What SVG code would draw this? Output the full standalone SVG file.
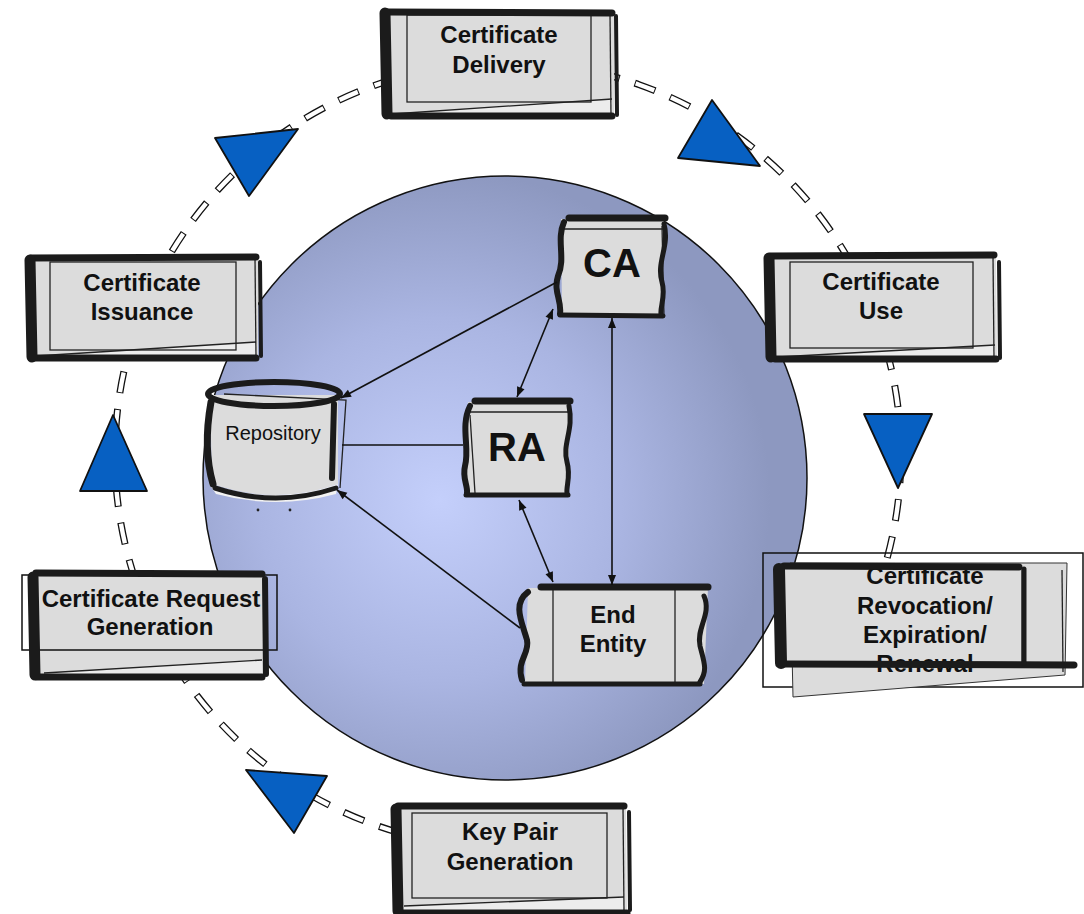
<svg xmlns="http://www.w3.org/2000/svg" width="1084" height="914" viewBox="0 0 1084 914">
  <defs>
    <radialGradient id="disk" cx="440" cy="500" r="330" gradientUnits="userSpaceOnUse">
      <stop offset="0" stop-color="#c4cffb"/>
      <stop offset="0.55" stop-color="#aab5e2"/>
      <stop offset="1" stop-color="#8d98c0"/>
    </radialGradient>
    <marker id="ah" viewBox="0 0 10 10" refX="10" refY="5" markerWidth="11" markerHeight="10" markerUnits="userSpaceOnUse" orient="auto-start-reverse">
      <path d="M0,1 L10,5 L0,9 Z" fill="#111"/>
    </marker>
    <style>
      .sheet { fill: #dcdcdc; stroke: none; }
      .pale { fill: #ececec; stroke: none; }
      .thin { fill: none; stroke: #222; stroke-width: 1.3; }
      .frame { fill: none; stroke: #111; stroke-width: 1.5; }
      .mk { fill: none; stroke: #1b1b1b; stroke-linecap: round; stroke-linejoin: round; }
      .t7 { stroke-width: 7; }
      .t11 { stroke-width: 11; }
      .t4 { stroke-width: 4; }
      .lbl { font-family: "Liberation Sans", Arial, sans-serif; font-weight: bold; font-size: 24px; fill: #111; text-anchor: middle; }
      .big { font-size: 40px; }
      .small { font-weight: normal; font-size: 20px; }
      .conn { fill: none; stroke: #111; stroke-width: 1.6; }
      .flow { fill: #0760c2; stroke: #111; stroke-width: 1.8; stroke-linejoin: round; }
      .ring-out { fill: none; stroke: #111; stroke-width: 7; stroke-dasharray: 22 16; }
      .ring-in { fill: none; stroke: #fff; stroke-width: 4.4; stroke-dasharray: 20 18; stroke-dashoffset: -1; }
    </style>
  </defs>

  <rect width="1084" height="914" fill="#ffffff"/>

  <!-- central disk -->
  <circle id="core" cx="505" cy="478" r="302" fill="url(#disk)" stroke="#111" stroke-width="1.5"/>

  <!-- lifecycle ring (outlined dashes), open between renewal and key pair -->
  <g id="ring">
    <path class="ring-out" d="M400,833 A393,393 0 1 1 874,598"/>
    <path class="ring-in" d="M400,833 A393,393 0 1 1 874,598"/>
  </g>

  <!-- Certificate Delivery -->
  <g id="n-delivery">
    <path class="sheet" d="M384,14 L614,12 L614,116 L388,116 Z"/>
    <path class="pale" d="M392,114 L612,99 L612,116 L392,116 Z"/>
    <path class="thin" d="M392,114 L612,99"/>
    <rect class="thin" x="407" y="15" width="184" height="87"/>
    <path class="thin" d="M610,14 L611,116"/>
    <path class="mk t7" d="M386,12 L612,13"/>
    <path class="mk t7" d="M391,116 L612,116"/>
    <path class="mk t11" d="M385,13 L387,114"/>
    <path class="mk t4" d="M616,16 L617,115"/>
    <text class="lbl" x="499" y="43">Certificate</text>
    <text class="lbl" x="499" y="73">Delivery</text>
  </g>

  <!-- Certificate Issuance -->
  <g id="n-issuance">
    <path class="sheet" d="M30,258 L258,256 L258,358 L32,358 Z"/>
    <path class="pale" d="M36,356 L256,342 L256,358 L36,358 Z"/>
    <path class="thin" d="M36,356 L256,342"/>
    <rect class="thin" x="50" y="262" width="186" height="88"/>
    <path class="thin" d="M255,258 L256,358"/>
    <path class="mk t7" d="M31,258 L256,257"/>
    <path class="mk t7" d="M35,358 L256,358"/>
    <path class="mk t11" d="M30,260 L32,357"/>
    <path class="mk t4" d="M260,262 L261,356"/>
    <text class="lbl" x="142" y="291">Certificate</text>
    <text class="lbl" x="142" y="320">Issuance</text>
  </g>

  <!-- Certificate Use -->
  <g id="n-use">
    <path class="sheet" d="M768,256 L996,254 L997,358 L772,358 Z"/>
    <path class="pale" d="M778,357 L995,345 L995,358 L778,358 Z"/>
    <path class="thin" d="M778,357 L995,345"/>
    <rect class="thin" x="790" y="262" width="183" height="86"/>
    <path class="thin" d="M993,256 L994,358"/>
    <path class="mk t7" d="M771,256 L994,255"/>
    <path class="mk t7" d="M775,359 L996,359"/>
    <path class="mk t11" d="M769,258 L771,357"/>
    <path class="mk t4" d="M999,262 L1000,358"/>
    <text class="lbl" x="881" y="290">Certificate</text>
    <text class="lbl" x="881" y="319">Use</text>
  </g>

  <!-- Certificate Revocation / Expiration / Renewal -->
  <g id="n-revocation">
    <rect class="frame" x="763" y="553" width="320" height="134"/>
    <path d="M790,563 L1067,563 L1065,675 L793,697 Z" style="fill:#dcdcdc;stroke:#333;stroke-width:1"/>
    <rect x="783" y="568" width="239" height="97" style="fill:#dcdcdc;stroke:#222;stroke-width:1"/>
    <path class="thin" d="M1062,570 L1063,672"/>
    <text class="lbl" x="925" y="584">Certificate</text>
    <text class="lbl" x="925" y="614">Revocation/</text>
    <text class="lbl" x="925" y="643">Expiration/</text>
    <text class="lbl" x="925" y="672">Renewal</text>
    <path class="mk t7" d="M784,566 L1019,567"/>
    <path class="mk t7" d="M784,664 L1074,665"/>
    <path class="mk" stroke-width="12" d="M779,569 L781,663"/>
    <path class="mk" stroke-width="5" d="M1024,569 L1024,663"/>
  </g>

  <!-- Certificate Request Generation -->
  <g id="n-request">
    <path class="sheet" d="M34,574 L264,574 L266,676 L36,676 Z"/>
    <path class="pale" d="M44,673 L262,660 L262,676 L44,676 Z"/>
    <path class="thin" d="M44,673 L262,660"/>
    <rect class="frame" x="22" y="575" width="255" height="75"/>
    <text class="lbl" x="151" y="607">Certificate Request</text>
    <text class="lbl" x="150" y="635">Generation</text>
    <path class="mk t7" d="M36,573 L262,574"/>
    <path class="mk t7" d="M37,677 L262,677"/>
    <path class="mk t11" d="M33,577 L35,675"/>
    <path class="mk" stroke-width="6" d="M265,579 L266,674"/>
  </g>

  <!-- Key Pair Generation -->
  <g id="n-keypair">
    <path class="sheet" d="M396,807 L626,805 L627,914 L398,914 Z"/>
    <path class="pale" d="M404,906 L624,897 L624,914 L404,914 Z"/>
    <path class="thin" d="M404,906 L624,897"/>
    <rect class="thin" x="412" y="813" width="195" height="85"/>
    <path class="thin" d="M623,807 L624,912"/>
    <path class="mk t7" d="M398,806 L624,806"/>
    <path class="mk t7" d="M401,913 L627,913"/>
    <path class="mk t11" d="M396,809 L398,911"/>
    <path class="mk t4" d="M629,812 L630,910"/>
    <text class="lbl" x="510" y="840">Key Pair</text>
    <text class="lbl" x="510" y="870">Generation</text>
  </g>

  <!-- Repository -->
  <g id="n-repository">
    <path class="sheet" d="M210,395 L338,395 L338,484 Q276,506 212,484 Z"/>
    <path d="M209,484 Q276,506 338,484 L336,494 Q276,510 216,494 Z" fill="#f2f2f2"/>
    <path class="thin" d="M224,394 L346,400 L340,488"/>
    <ellipse class="mk" cx="274" cy="394" rx="66" ry="12" stroke-width="6"/>
    <path class="mk" stroke-width="7" d="M211,402 C206,430 206,460 213,484"/>
    <path class="mk" stroke-width="6" d="M334,404 L332,478"/>
    <path class="mk" stroke-width="5" d="M215,488 Q276,508 336,488"/>
    <circle cx="258" cy="510" r="1.4" fill="#222"/>
    <circle cx="290" cy="510" r="1.4" fill="#222"/>
    <text class="lbl small" x="273" y="440">Repository</text>
  </g>

  <!-- CA -->
  <g id="n-ca">
    <path class="sheet" d="M561,219 L664,218 L660,316 L562,316 Z"/>
    <path class="thin" d="M560,229 L664,229"/>
    <path class="thin" d="M662,226 L664,316"/>
    <path class="mk t7" d="M569,218 L665,218"/>
    <path class="mk" stroke-width="5" d="M560,315 L663,316"/>
    <path class="mk" stroke-width="6" d="M564,222 C556,240 566,258 558,276 C553,292 562,300 560,314"/>
    <path class="mk" stroke-width="5" d="M664,224 C670,246 656,262 662,282 C666,296 660,306 661,314"/>
    <text class="lbl big" x="612" y="277">CA</text>
  </g>

  <!-- RA -->
  <g id="n-ra">
    <path class="sheet" d="M468,402 L570,401 L568,495 L466,495 Z"/>
    <path class="thin" d="M466,412 L570,412"/>
    <path class="thin" d="M470,415 L475,493"/>
    <path class="mk t7" d="M475,401 L570,401"/>
    <path class="mk" stroke-width="5" d="M466,495 L568,495"/>
    <path class="mk" stroke-width="6" d="M470,406 C460,426 470,448 465,466 C462,478 468,486 467,493"/>
    <path class="mk" stroke-width="5" d="M569,406 C574,430 562,444 567,462 C571,476 566,486 567,493"/>
    <text class="lbl big" x="517" y="461">RA</text>
  </g>

  <!-- End Entity -->
  <g id="n-endentity">
    <path class="sheet" d="M528,588 L708,587 L704,684 L525,684 Z"/>
    <path class="thin" d="M553,590 L553,683"/>
    <path class="thin" d="M675,590 L675,683"/>
    <path class="mk t7" d="M541,587 L708,587"/>
    <path class="mk" stroke-width="5" d="M524,684 L700,684"/>
    <path class="mk" stroke-width="6" d="M528,592 C512,604 522,622 527,640 C530,654 516,660 522,680"/>
    <path class="mk" stroke-width="5" d="M704,596 C712,614 696,628 700,646 C704,662 708,670 700,682"/>
    <text class="lbl" x="613" y="623">End</text>
    <text class="lbl" x="613" y="652">Entity</text>
  </g>

  <!-- connectors and flow direction markers -->
  <g id="connectors">
    <path class="conn" d="M557,282 L341,398" marker-end="url(#ah)"/>
    <path class="conn" d="M463,445 L342,445"/>
    <path class="conn" d="M520,628 L337,490" marker-end="url(#ah)"/>
    <path class="conn" d="M553,309 L517,397" marker-start="url(#ah)" marker-end="url(#ah)"/>
    <path class="conn" d="M519,500 L553,582" marker-start="url(#ah)" marker-end="url(#ah)"/>
    <path class="conn" d="M612,585 L612,318" marker-start="url(#ah)" marker-end="url(#ah)"/>

    <polygon class="flow" points="215,138 298,129 249,196"/>
    <polygon class="flow" points="712,100 678,158 760,166"/>
    <polygon class="flow" points="864,414 932,414 898,488"/>
    <polygon class="flow" points="246,770 327,776 294,833"/>
    <polygon class="flow" points="113,415 80,491 147,491"/>
  </g>
</svg>
